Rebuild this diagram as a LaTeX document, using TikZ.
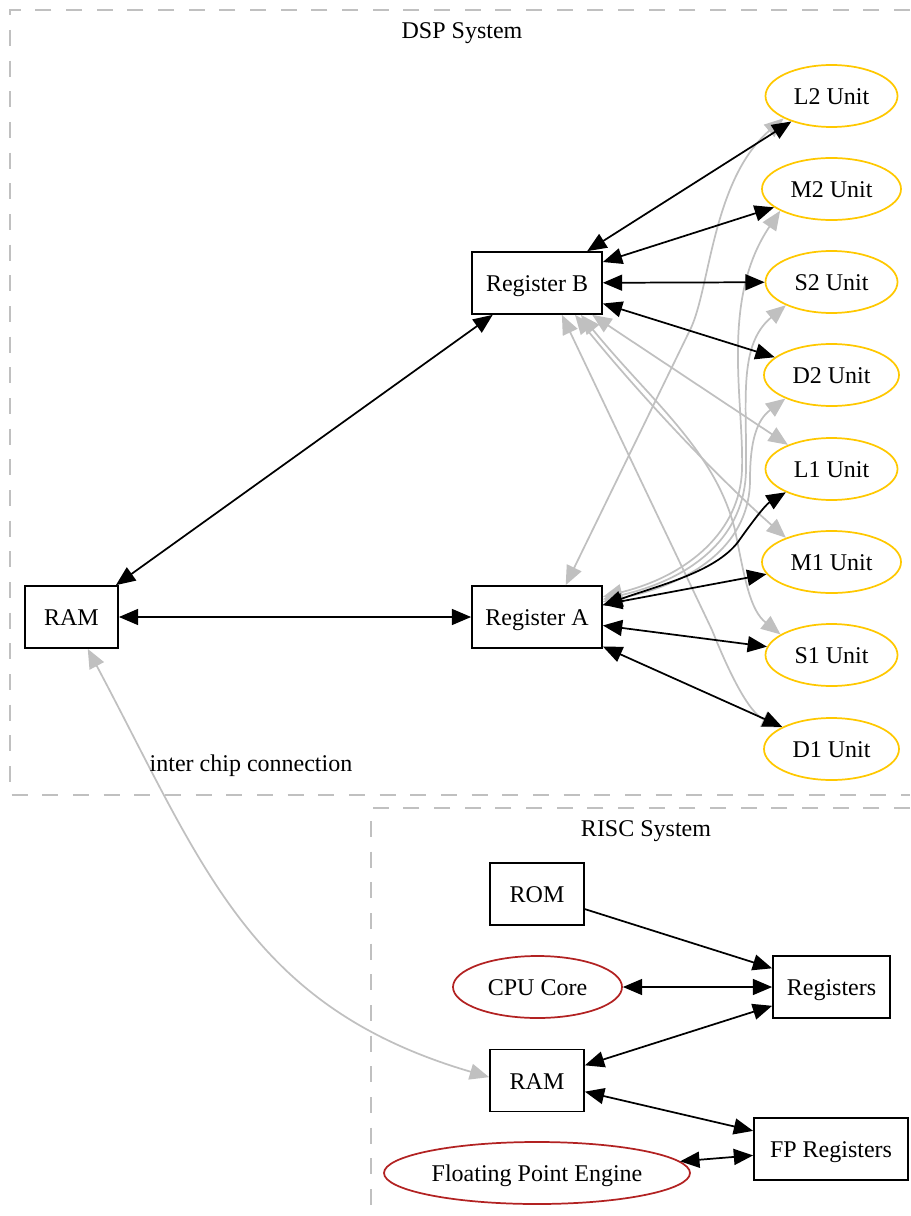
\documentclass[tikz,border=0pt]{standalone}
\usepackage{fontspec}
\setmainfont{Liberation Serif}
\usetikzlibrary{arrows.meta,shapes.geometric}
\definecolor{unitgold}{RGB}{255,200,0}
\definecolor{corered}{RGB}{178,34,34}
\definecolor{linkgray}{RGB}{192,192,192}
\definecolor{framegray}{RGB}{192,192,192}
\begin{document}
\begin{tikzpicture}[x=0.75pt,y=-0.75pt,
  every node/.style={font=\fontsize{18}{21}\selectfont, inner sep=0pt,
    text height=16.3pt, text depth=3.5pt},
  regbox/.style={draw, line width=1.3pt, rectangle, minimum height=46.5pt},
  unitnode/.style={draw=unitgold, line width=1.3pt, ellipse, minimum height=46.5pt},
  corenode/.style={draw=corered, line width=1.3pt, ellipse, minimum height=46.5pt},
  biedge/.style={line width=1.3pt,
    {Triangle[length=14.5pt,width=12pt]}-{Triangle[length=14.5pt,width=12pt]}},
  oneedge/.style={line width=1.3pt, -{Triangle[length=14.5pt,width=12pt]}},
  grayedge/.style={draw=linkgray, line width=1.3pt,
    {Triangle[length=14.5pt,width=12pt]}-{Triangle[length=14.5pt,width=12pt]}},
  frame/.style={draw=framegray, line width=1.3pt, dash pattern=on 12pt off 11pt}
]
\useasboundingbox (0,0) rectangle (910,1216);

% cluster frames
\draw[frame] (910,10) -- (10,10) -- (10,795) -- (910,795);
\draw[frame] (910,808) -- (371,808) -- (371,1216);
\node (dsptitle) at (462,30) {DSP System};
\node (risctitle) at (646,828) {RISC System};

% DSP system
\node[regbox, minimum width=69.75pt] (RAM1) at (71.5,617) {RAM};
\node[regbox, minimum width=97.5pt] (RB) at (537,283) {Register B};
\node[regbox, minimum width=97.5pt] (RA) at (537,617) {Register A};
\node[unitnode, minimum width=99pt]     (L2) at (831.5,96)  {L2 Unit};
\node[unitnode, minimum width=104.25pt] (M2) at (831.5,189) {M2 Unit};
\node[unitnode, minimum width=99pt]     (S2) at (831.5,282) {S2 Unit};
\node[unitnode, minimum width=101.25pt] (D2) at (831.5,375) {D2 Unit};
\node[unitnode, minimum width=99pt]     (L1) at (831.5,469) {L1 Unit};
\node[unitnode, minimum width=104.25pt] (M1) at (831.5,562) {M1 Unit};
\node[unitnode, minimum width=99pt]     (S1) at (831.5,655) {S1 Unit};
\node[unitnode, minimum width=101.25pt] (D1) at (831.5,749) {D1 Unit};

% RISC system
\node[regbox, minimum width=70.5pt, minimum height=47pt] (ROM) at (537,894) {ROM};
\node[corenode, minimum width=126.75pt] (CPU) at (537.5,987) {CPU Core};
\node[regbox, minimum width=87.75pt] (REGS) at (831.5,987) {Registers};
\node[regbox, minimum width=70.5pt] (RAM2) at (537,1080.5) {RAM};
\node[regbox, minimum width=115.5pt] (FPREG) at (831,1149) {FP Registers};
\node[corenode, minimum width=229.5pt] (FPE) at (537,1173) {Floating Point Engine};

% cross links between the register files and the far units
\draw[grayedge] (RA.48) -- (690,330) .. controls (710,290) and (712,180) .. (L2.205);
\draw[grayedge] (RA.17) .. controls (690,575) and (740,530) .. (742,470)
  .. controls (744,400) and (720,300) .. (M2.203);
\draw[grayedge] (RA.15) .. controls (695,578) and (745,535) .. (746,470)
  .. controls (747,400) and (738,345) .. (S2.207);
\draw[grayedge] (RA.13) .. controls (700,582) and (750,540) .. (750,480)
  .. controls (750,440) and (757,420) .. (D2.207);
\draw[grayedge] (RB.-30) -- (L1.151);
\draw[grayedge] (RB.-40) .. controls (640,395) and (715,475) .. (M1.152);
\draw[grayedge] (RB.-36) .. controls (650,400) and (715,450) .. (735,530)
  .. controls (745,580) and (750,610) .. (S1.158);
\draw[grayedge] (RB.-52) -- (712,630) .. controls (728,670) and (748,712) .. (D1.157);

% inter chip link
\draw[grayedge] (RAM1.-63) .. controls (204,868) and (250,1007) .. (RAM2.176);
\node (chiplabel) at (251,763) {inter chip connection};

% DSP buses
\draw[biedge] (RAM1) -- (RB);
\draw[biedge] (RAM1) -- (RA);
\draw[biedge] (RB) -- (L2);
\draw[biedge] (RB) -- (M2);
\draw[biedge] (RB) -- (S2);
\draw[biedge] (RB) -- (D2);
\draw[biedge] (RA.10) .. controls (660,585) and (715,572) .. (738,542)
  .. controls (750,525) and (765,505) .. (L1.207);
\draw[biedge] (RA) -- (M1);
\draw[biedge] (RA) -- (S1);
\draw[biedge] (RA) -- (D1);

% RISC buses
\draw[oneedge] (ROM) -- (REGS);
\draw[biedge] (CPU) -- (REGS);
\draw[biedge] (RAM2) -- (REGS);
\draw[biedge] (RAM2) -- (FPREG);
\draw[biedge] (FPE) -- (FPREG);
\end{tikzpicture}
\end{document}
